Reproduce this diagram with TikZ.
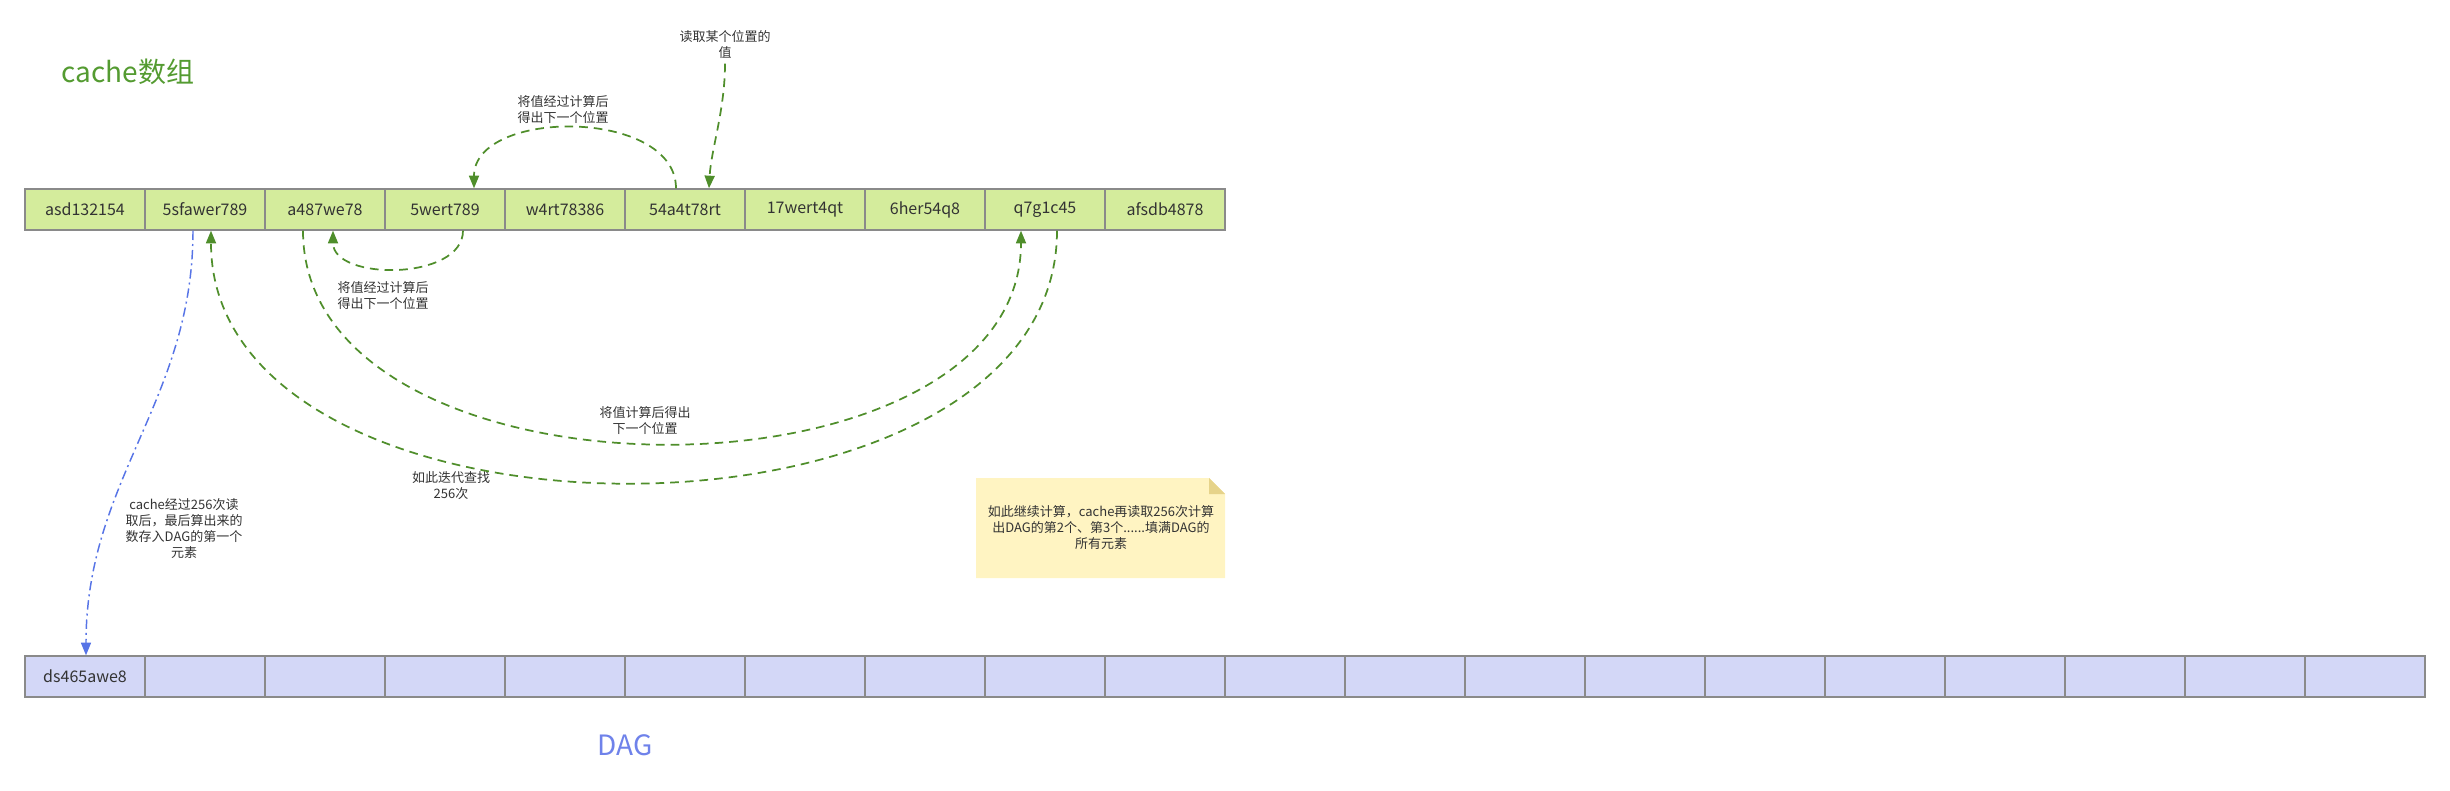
\documentclass[tikz,border=0pt]{standalone}
\usepackage{fontspec}
\setmainfont{Noto Sans CJK SC}
\usetikzlibrary{arrows.meta,calc}
\definecolor{cellgreen}{HTML}{D4EC9C}
\definecolor{cellblue}{HTML}{D3D7F7}
\definecolor{cellborder}{HTML}{8A8A8A}
\definecolor{arrgreen}{HTML}{4F8E2B}
\definecolor{arrblue}{HTML}{5774E6}
\definecolor{titlegreen}{HTML}{549B31}
\definecolor{titleblue}{HTML}{6F82EA}
\definecolor{txt}{HTML}{333333}
\definecolor{notefill}{HTML}{FFF4C2}
\definecolor{notefold}{HTML}{E6D38A}
\begin{document}
\begin{tikzpicture}[x=0.75pt,y=-0.75pt,
  cachecell/.style={draw=cellborder,fill=cellgreen,line width=1pt,minimum width=90pt,minimum height=30.75pt,inner sep=0pt,text=txt,font=\fontsize{12}{14}\selectfont},
  dagcell/.style={draw=cellborder,fill=cellblue,line width=1pt,minimum width=90pt,minimum height=30.75pt,inner sep=0pt,text=txt,font=\fontsize{12}{14}\selectfont},
  smalllabel/.style={text=txt,align=center,font=\fontsize{9.75}{12}\selectfont},
  titletext/.style={font=\fontsize{21}{24}\selectfont,inner sep=0pt},
  garrow/.style={draw=arrgreen,line width=1.3pt,dash pattern=on 6.5pt off 4.5pt,-{Triangle[length=9.5pt,width=7.5pt]}},
  barrow/.style={draw=arrblue,line width=1.1pt,dash pattern=on 7pt off 3pt on 1.5pt off 3pt,-{Triangle[length=9.5pt,width=7.5pt]}}
]
\useasboundingbox (0,0) rectangle (2450,790);

% titles
\node[titletext,text=titlegreen] (ctitle) at (128,72) {cache数组};
\node[titletext,text=titleblue] (dtitle) at (625,745) {DAG};

% cache cells
\foreach \t [count=\i] in {asd132154,5sfawer789,a487we78,5wert789,w4rt78386,54a4t78rt,17wert4qt,6her54q8,q7g1c45,afsdb4878}{
  \node[cachecell] (c\i) at ({85+120*(\i-1)},209.5) {\t};
}
% DAG cells
\node[dagcell] (d1) at (85,676.5) {ds465awe8};
\foreach \i in {2,...,20}{
  \node[dagcell] (d\i) at ({85+120*(\i-1)},676.5) {};
}

% labels
\node[smalllabel] (lread) at (725,45) {读取某个位置的\\值};
\node[smalllabel] (lup) at (563,110) {将值经过计算后\\得出下一个位置};
\node[smalllabel] (ldown) at (383,296) {将值经过计算后\\得出下一个位置};
\node[smalllabel] (lbig) at (645,421) {将值计算后得出\\下一个位置};
\node[smalllabel] (liter) at (451,486) {如此迭代查找\\256次};
\node[smalllabel] (ldag) at (184,529) {cache经过256次读\\取后，最后算出来的\\数存入DAG的第一个\\元素};

% note
\fill[notefill] (976,478) -- (1209,478) -- (1225,494) -- (1225,578) -- (976,578) -- cycle;
\fill[notefold] (1209,478) -- (1225,494) -- (1209,494) -- cycle;
\node[smalllabel] (note) at (1101,528) {如此继续计算，cache再读取256次计算\\出DAG的第2个、第3个......填满DAG的\\所有元素};

% arrows
\draw[garrow] (lread.south) .. controls (725,110) and (711,150) .. ($(c6.north)+(24,0)$);
\draw[garrow] ($(c6.north)+(-9,0)$) .. controls (676,108) and (474,108) .. ($(c4.north)+(29,0)$);
\draw[garrow] ($(c4.south)+(18,0)$) .. controls (463,281) and (333,281) .. ($(c3.south)+(8,0)$);
\draw[garrow] ($(c3.south)+(-22,0)$) .. controls (303,514) and (1021,514) .. ($(c9.south)+(-24,0)$);
\draw[garrow] ($(c9.south)+(12,0)$) .. controls (1057,566) and (211,566) .. ($(c2.south)+(6,0)$);
\draw[barrow] ($(c2.south)+(-12,0)$) .. controls (193,400) and (86,480) .. ($(d1.north)+(1,0)$);
\end{tikzpicture}
\end{document}
